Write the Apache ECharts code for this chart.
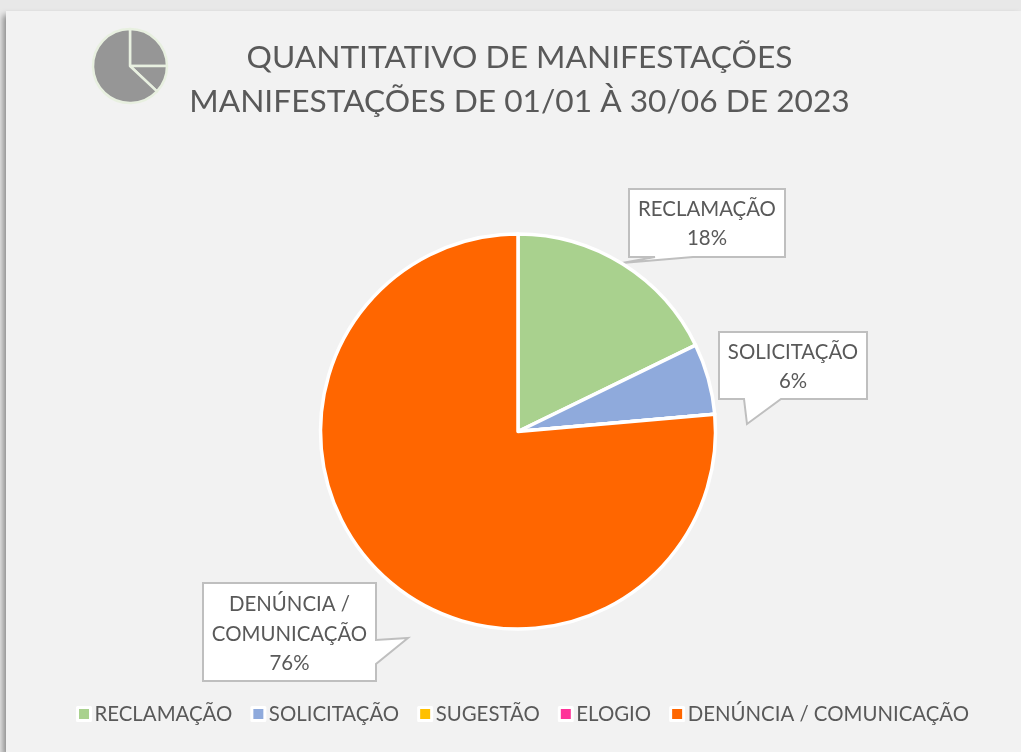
<html>
  <head>
    <meta charset="utf-8">
    <script src="https://cdn.jsdelivr.net/npm/echarts@6/dist/echarts.min.js"></script>
    <title>Quantitativo de Manifestações</title>
  </head>
  <body style="margin:0; background-color:#e8e8e8; overflow:hidden;">
    <div id="chart" style="width:1021px; height:752px;"></div>
    <script>
      const categories = ['RECLAMAÇÃO', 'SOLICITAÇÃO', 'SUGESTÃO', 'ELOGIO', 'DENÚNCIA / COMUNICAÇÃO']
      const shares = [17.8, 5.8, 0, 0, 76.4]
      const iconShares = [25, 12, 63]
      const colorPalette = ['#a9d18e', '#8faadc', '#ffc000', '#ff3399', '#ff6600']
      const textColor = '#595959'
      const fontFamily = 'Lato, "Open Sans", sans-serif'

      // callout outlines (box + tail), the label text sits on top of them
      const callouts = [
        { center: [707, 224], points: [[629,189],[785,189],[785,257],[693,257],[622,263],[655,257],[629,257]] },
        { center: [793, 367], points: [[719,332],[867,332],[867,399],[781,399],[747,424],[744,399],[719,399]] },
        null,
        null,
        { center: [289.5, 634], points: [[203,583],[376,583],[376,640],[408,638],[376,664],[376,681],[203,681]] }
      ]

      const chart = echarts.init(document.getElementById('chart'))

      const option = {
        backgroundColor: '#e8e8e8',
        animation: false,
        title: {
          text: 'QUANTITATIVO DE MANIFESTAÇÕES\nMANIFESTAÇÕES DE 01/01 À 30/06 DE 2023',
          left: 514.5,
          top: 31,
          textAlign: 'center',
          textStyle: {
            color: textColor,
            fontFamily: fontFamily,
            fontWeight: 'normal',
            fontSize: 31.7,
            lineHeight: 44
          }
        },
        legend: {
          data: categories,
          left: 71,
          top: 699,
          icon: 'rect',
          itemWidth: 13,
          itemHeight: 13,
          itemGap: 18,
          itemStyle: { borderColor: '#ffffff', borderWidth: 3 },
          textStyle: { color: textColor, fontFamily: fontFamily, fontSize: 20.4, padding: [0, 0, 0, -1] }
        },
        graphic: [
          {
            type: 'rect',
            z: 0,
            shape: { x: 6, y: 11, width: 1015, height: 741 },
            style: { fill: '#f2f2f2', shadowBlur: 6, shadowColor: 'rgba(0,0,0,0.4)', shadowOffsetX: -3, shadowOffsetY: 4 }
          },
          ...callouts.filter(c => c).map(c => ({
            type: 'polygon',
            z: 1,
            shape: { points: c.points },
            style: { fill: '#ffffff', stroke: '#bfbfbf', lineWidth: 2 }
          }))
        ],
        series: [
          {
            type: 'pie',
            z: 3,
            center: [518, 431.5],
            radius: [0, 197.5],
            startAngle: 90,
            clockwise: true,
            silent: true,
            percentPrecision: 0,
            itemStyle: { borderColor: '#ffffff', borderWidth: 3.5 },
            label: {
              position: 'outside',
              color: textColor,
              fontFamily: fontFamily,
              fontSize: 20.4,
              lineHeight: 29.5,
              align: 'center',
              verticalAlign: 'middle',
              formatter: p => p.name.replace(' / ', ' /\n') + '\n' + p.percent + '%'
            },
            labelLine: { show: false },
            labelLayout: p => {
              const c = callouts[p.dataIndex]
              return c ? { x: c.center[0], y: c.center[1], align: 'center', verticalAlign: 'middle' } : {}
            },
            data: categories.map((name, i) => ({
              name: name,
              value: shares[i],
              itemStyle: { color: colorPalette[i] },
              label: { show: shares[i] > 0 }
            }))
          },
          {
            // small decorative pie next to the title
            type: 'pie',
            z: 2,
            center: [130, 66],
            radius: [0, 37],
            startAngle: 90,
            silent: true,
            label: { show: false },
            labelLine: { show: false },
            itemStyle: { color: '#969696', borderColor: '#e8f0e0', borderWidth: 2.5 },
            data: iconShares.map((v, i) => ({ name: 'icone' + i, value: v }))
          }
        ]
      }

      chart.setOption(option)
    </script>
  </body>
</html>
